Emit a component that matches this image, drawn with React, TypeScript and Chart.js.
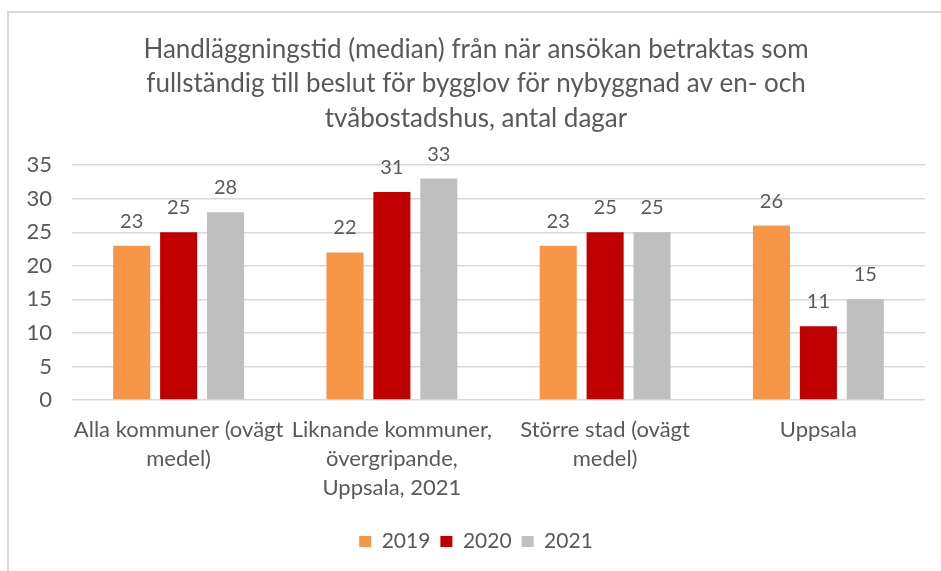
import React, { useEffect, useRef } from "react";
import { Chart, registerables } from "chart.js";

Chart.register(...registerables);

const categories: string[][] = [
  ["Alla kommuner (ovägt", "medel)"],
  ["Liknande kommuner,", "övergripande,", "Uppsala, 2021"],
  ["Större stad (ovägt", "medel)"],
  ["Uppsala"],
];
const seriesNames = ["2019", "2020", "2021"];
const values2019 = [23, 22, 23, 26];
const values2020 = [25, 31, 25, 11];
const values2021 = [28, 33, 25, 15];
const colors = ["#F79646", "#C00000", "#BFBFBF"];
const titleLines = [
  "Handläggningstid (median) från när ansökan betraktas som",
  "fullständig till beslut för bygglov för nybyggnad av en- och",
  "tvåbostadshus, antal dagar",
];

const FONT = "Lato, 'Open Sans', sans-serif";
const TEXT = "#595959";

const valueLabels = {
  id: "valueLabels",
  afterDatasetsDraw(chart: any) {
    const ctx = chart.ctx;
    ctx.save();
    ctx.font = `20px ${FONT}`;
    ctx.fillStyle = TEXT;
    ctx.textAlign = "center";
    ctx.textBaseline = "alphabetic";
    chart.data.datasets.forEach((ds: any, i: number) => {
      const meta = chart.getDatasetMeta(i);
      meta.data.forEach((bar: any, j: number) => {
        ctx.fillText(String(ds.data[j]), bar.x, bar.y - 18);
      });
    });
    ctx.restore();
  },
};

export default function App() {
  const ref = useRef<HTMLCanvasElement>(null);
  useEffect(() => {
    if (!ref.current) return;
    const chart = new Chart(ref.current, {
      type: "bar",
      data: {
        labels: categories,
        datasets: [values2019, values2020, values2021].map((d, i) => ({
          label: seriesNames[i],
          data: d,
          backgroundColor: colors[i],
          categoryPercentage: 0.66,
          barPercentage: 0.79,
        })),
      },
      options: {
        animation: false,
        responsive: false,
        maintainAspectRatio: false,
        layout: { padding: { left: 27, right: 16, top: 33, bottom: 9 } },
        plugins: {
          title: {
            display: true,
            text: titleLines,
            color: TEXT,
            font: { family: FONT, size: 26, weight: "normal", lineHeight: 1.31 },
            padding: { top: 0, bottom: 30 },
          },
          legend: {
            position: "bottom",
            labels: {
              color: TEXT,
              font: { family: FONT, size: 21 },
              boxWidth: 12,
              boxHeight: 11,
              padding: 10,
            },
          },
          tooltip: { enabled: false },
        },
        scales: {
          x: {
            grid: { display: false, drawTicks: false },
            border: { display: false },
            afterFit: (s: any) => {
              s.height = 121;
            },
            ticks: {
              color: TEXT,
              font: { family: FONT, size: 22, lineHeight: 1.32 },
              maxRotation: 0,
              autoSkip: false,
              padding: 15,
            },
          },
          y: {
            min: 0,
            max: 35,
            border: { display: false },
            grid: { color: "#D9D9D9", lineWidth: 1.5, drawTicks: false },
            afterFit: (s: any) => {
              s.width = 45;
            },
            ticks: {
              stepSize: 5,
              color: TEXT,
              font: { family: FONT, size: 22 },
              padding: 20,
            },
          },
        },
      },
      plugins: [valueLabels],
    });
    return () => chart.destroy();
  }, []);
  return (
    <div style={{ position: "absolute", left: 0, top: 0, width: 941, height: 571, overflow: "hidden", background: "#fff" }}>
      <div style={{ position: "absolute", left: 7, top: 11, width: 960, height: 600, border: "2px solid #D9D9D9", boxSizing: "border-box" }} />
      <canvas ref={ref} width={941} height={571} style={{ position: "absolute", left: 0, top: 0 }} />
    </div>
  );
}
